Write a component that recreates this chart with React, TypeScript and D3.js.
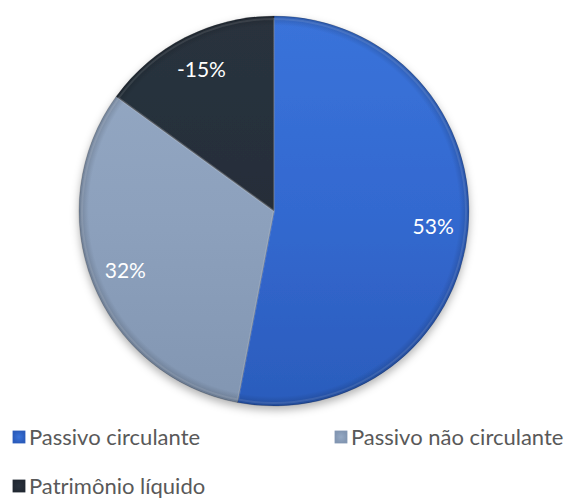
import * as d3 from 'd3';
import React, { useEffect, useRef } from 'react';

// Chart data
const categories = ['Passivo circulante', 'Passivo não circulante', 'Patrimônio líquido'];
const values = [53, 32, -15];
const colors = ['#3369d0', '#8da1bd', '#262e39'];
const lightColors = ['#3a73da', '#95a9c4', '#29323e'];
const darkColors = ['#2b5cbc', '#8296b2', '#222933'];

const App = () => {
    const d3Container = useRef(null);
    const width = 571;
    const height = 500;
    const cx = 274;
    const cy = 211;
    const radius = 195;

    useEffect(() => {
        const svg = d3.select(d3Container.current);
        svg.selectAll('*').remove();

        const defs = svg.append('defs');

        // slice gradients, light top -> dark bottom (coords relative to pie centre)
        colors.forEach((c, i) => {
            const grad = defs.append('linearGradient')
                .attr('id', 'slice' + i)
                .attr('gradientUnits', 'userSpaceOnUse')
                .attr('x1', 0).attr('y1', -radius)
                .attr('x2', 0).attr('y2', radius);
            grad.append('stop').attr('offset', '0%').attr('stop-color', lightColors[i]);
            grad.append('stop').attr('offset', '50%').attr('stop-color', c);
            grad.append('stop').attr('offset', '100%').attr('stop-color', darkColors[i]);

            const mgrad = defs.append('radialGradient')
                .attr('id', 'marker' + i);
            mgrad.append('stop').attr('offset', '0%').attr('stop-color', lightColors[i]);
            mgrad.append('stop').attr('offset', '100%').attr('stop-color', darkColors[i]);
        });

        // bevel ring: darker near edge
        const ring = defs.append('radialGradient')
            .attr('id', 'bevel')
            .attr('gradientUnits', 'userSpaceOnUse')
            .attr('cx', 0).attr('cy', 0).attr('r', radius);
        ring.append('stop').attr('offset', '0%').attr('stop-color', '#000').attr('stop-opacity', 0);
        ring.append('stop').attr('offset', '95%').attr('stop-color', '#000').attr('stop-opacity', 0);
        ring.append('stop').attr('offset', '100%').attr('stop-color', '#000').attr('stop-opacity', 0.2);

        const shadow = defs.append('filter')
            .attr('id', 'shadow')
            .attr('x', '-20%').attr('y', '-20%').attr('width', '140%').attr('height', '140%');
        shadow.append('feDropShadow')
            .attr('dx', 0).attr('dy', 4)
            .attr('stdDeviation', 4)
            .attr('flood-color', '#000')
            .attr('flood-opacity', 0.3);

        const pie = d3.pie<number>()
            .value((d) => Math.abs(d))
            .sort(null);
        const arcs = pie(values);

        const arc = d3.arc<d3.PieArcDatum<number>>()
            .innerRadius(0)
            .outerRadius(radius);

        const labelArc = d3.arc<d3.PieArcDatum<number>>()
            .innerRadius(radius * 0.82)
            .outerRadius(radius * 0.82);

        const g = svg.append('g')
            .attr('transform', 'translate(' + cx + ',' + cy + ')');

        const slices = g.append('g').attr('filter', 'url(#shadow)');
        slices.selectAll('path.slice')
            .data(arcs)
            .enter()
            .append('path')
            .attr('class', 'slice')
            .attr('d', arc)
            .attr('fill', (d, i) => 'url(#slice' + i + ')')
            .attr('stroke', 'rgba(0,0,0,0.18)')
            .attr('stroke-width', 1);

        // edge shading
        g.append('circle')
            .attr('r', radius)
            .attr('fill', 'url(#bevel)');

        // thin highlight just inside the edges
        g.selectAll('path.hl')
            .data(arcs)
            .enter()
            .append('path')
            .attr('class', 'hl')
            .attr('d', d3.arc<d3.PieArcDatum<number>>().innerRadius(0).outerRadius(radius - 3))
            .attr('fill', 'none')
            .attr('stroke', 'rgba(255,255,255,0.1)')
            .attr('stroke-width', 2);

        // Labels
        g.selectAll('text.lbl')
            .data(arcs)
            .enter()
            .append('text')
            .attr('class', 'lbl')
            .attr('transform', (d) => 'translate(' + labelArc.centroid(d) + ')')
            .attr('text-anchor', 'middle')
            .attr('dy', '0.38em')
            .attr('fill', '#ffffff')
            .style('font-family', 'Lato, sans-serif')
            .style('font-size', '21px')
            .text((d) => d.data + '%');

        // Legend
        const legendPos = [
            { x: 13, y: 437 },
            { x: 335, y: 437 },
            { x: 13, y: 486 },
        ];
        const legend = svg.append('g');
        const items = legend.selectAll('g.item')
            .data(categories)
            .enter()
            .append('g')
            .attr('class', 'item')
            .attr('transform', (d, i) => 'translate(' + legendPos[i].x + ',' + legendPos[i].y + ')');
        items.append('rect')
            .attr('x', 0).attr('y', -6)
            .attr('width', 12).attr('height', 12)
            .attr('fill', (d, i) => 'url(#marker' + i + ')')
            .attr('stroke', (d, i) => darkColors[i])
            .attr('stroke-width', 0.8);
        items.append('text')
            .attr('x', 16)
            .attr('dy', '0.36em')
            .attr('fill', '#595959')
            .style('font-family', 'Lato, sans-serif')
            .style('font-size', '22px')
            .text((d) => d);
    }, []);

    return (
        <div>
            <svg ref={d3Container} width={width} height={height}
                style={{ position: 'absolute', left: 0, top: 0, background: '#fff' }}>
            </svg>
        </div>
    );
};

export default App;
